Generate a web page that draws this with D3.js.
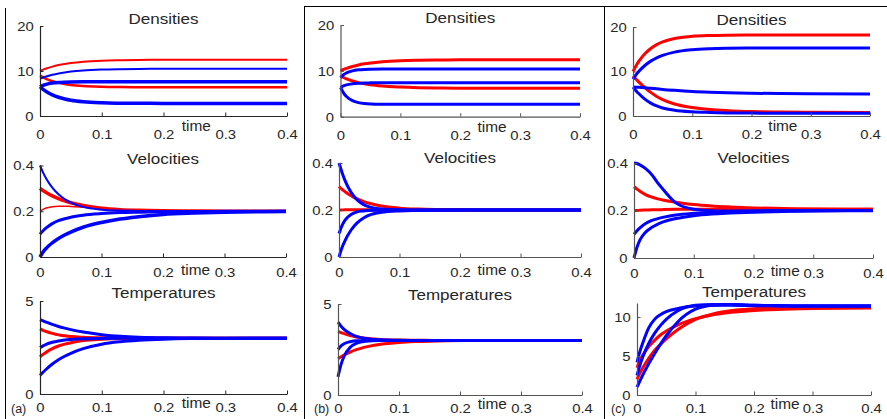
<!DOCTYPE html>
<html><head><meta charset="utf-8">
<script src="https://cdn.jsdelivr.net/npm/d3@7"></script>
<style>
body{margin:0;background:#fff}
svg{display:block}
text{font-family:"Liberation Sans",Arial,Helvetica,sans-serif;fill:#262626}
.sx{transform-box:fill-box;transform-origin:center;transform:scaleX(1.1)}
</style>
</head><body><svg id="c" width="887" height="419"></svg>
<script>
// ---------- data ----------
const time = [0,0.005,0.01,0.02,0.03,0.04,0.05,0.07,0.1,0.13,0.16,0.2,0.25,0.3,0.4];
const xTicks = [0,0.1,0.2,0.3,0.4];
const panelLabels = ["(a)","(b)","(c)"];
const rowTitles = ["Densities","Velocities","Temperatures"];
const densityTicks = [0,10,20];
const velocityTicks = [0,0.2,0.4];
const tempTicks = [0,5];
const tempTicksC = [0,5,10];

// (a)
const densA_red = [
  [10,10.29,10.55,10.98,11.32,11.58,11.78,12.07,12.3,12.4,12.46,12.48,12.5,12.5,12.5],
  [9,8.6,8.26,7.73,7.36,7.09,6.89,6.65,6.49,6.43,6.41,6.4,6.4,6.4,6.4]
];
const densA_blue = [
  [8.3,8.56,8.79,9.16,9.46,9.69,9.87,10.12,10.32,10.41,10.46,10.48,10.5,10.5,10.5],
  [6.5,6.81,7.04,7.31,7.45,7.52,7.56,7.59,7.6,7.6,7.6,7.6,7.6,7.6,7.6],
  [6.5,5.93,5.45,4.7,4.16,3.78,3.5,3.16,2.93,2.85,2.82,2.8,2.8,2.8,2.8]
];
const velA_red = [
  [0.3,0.29,0.282,0.267,0.255,0.245,0.237,0.225,0.213,0.207,0.204,0.202,0.201,0.2,0.2],
  [0.2,0.208,0.214,0.22,0.222,0.222,0.221,0.218,0.213,0.208,0.205,0.202,0.201,0.2,0.2]
];
const velA_blue = [
  [0.4,0.369,0.343,0.303,0.274,0.253,0.238,0.219,0.207,0.203,0.201,0.2,0.2,0.2,0.2],
  [0.1,0.115,0.127,0.146,0.159,0.167,0.174,0.183,0.19,0.194,0.196,0.198,0.199,0.2,0.2],
  [0,0.022,0.038,0.062,0.081,0.096,0.109,0.13,0.151,0.166,0.176,0.186,0.192,0.196,0.199]
];
const tempA_red = [
  [3.5,3.42,3.36,3.26,3.18,3.13,3.09,3.05,3.02,3.01,3,3,3,3,3],
  [2,2.13,2.25,2.44,2.58,2.68,2.76,2.87,2.94,2.98,2.99,3,3,3,3]
];
const tempA_blue = [
  [4,3.93,3.86,3.74,3.63,3.54,3.46,3.33,3.19,3.1,3.05,3.02,3.01,3,3],
  [2.5,2.59,2.67,2.78,2.85,2.9,2.93,2.97,2.99,3,3,3,3,3,3],
  [1,1.17,1.33,1.61,1.84,2.03,2.19,2.44,2.68,2.81,2.89,2.95,2.98,2.99,3]
];

// (b)
const densB_red = [
  [10,10.3,10.55,10.95,11.28,11.53,11.73,12,12.22,12.32,12.37,12.4,12.4,12.4,12.4],
  [8.9,8.55,8.26,7.79,7.43,7.16,6.95,6.68,6.46,6.33,6.26,6.22,6.2,6.2,6.2]
];
const densB_blue = [
  [8.5,9.15,9.55,10,10.22,10.32,10.36,10.39,10.4,10.4,10.4,10.4,10.4,10.4,10.4],
  [6.4,6.72,6.93,7.17,7.3,7.36,7.38,7.4,7.4,7.4,7.4,7.4,7.4,7.4,7.4],
  [6.4,5.2,4.4,3.5,3.07,2.87,2.78,2.72,2.7,2.7,2.7,2.7,2.7,2.7,2.7]
];
const velB_red = [
  [0.3,0.288,0.278,0.261,0.247,0.237,0.229,0.217,0.208,0.204,0.202,0.201,0.2,0.2,0.2],
  [0.2,0.2,0.201,0.201,0.201,0.201,0.201,0.2,0.2,0.2,0.2,0.2,0.2,0.2,0.2]
];
const velB_blue = [
  [0.4,0.36,0.325,0.275,0.243,0.224,0.213,0.204,0.201,0.2,0.2,0.2,0.2,0.2,0.2],
  [0.1,0.134,0.157,0.181,0.192,0.196,0.198,0.2,0.2,0.2,0.2,0.2,0.2,0.2,0.2],
  [0,0.04,0.07,0.115,0.145,0.165,0.178,0.19,0.196,0.198,0.199,0.2,0.2,0.2,0.2]
];
const tempB_red = [
  [3.5,3.43,3.37,3.27,3.19,3.14,3.1,3.05,3.02,3.01,3,3,3,3,3],
  [2,2.1,2.2,2.36,2.49,2.59,2.67,2.79,2.89,2.94,2.97,2.99,3,3,3]
];
const tempB_blue = [
  [4,3.78,3.61,3.37,3.22,3.14,3.08,3.03,3.01,3,3,3,3,3,3],
  [2.5,2.7,2.82,2.93,2.98,2.99,3,3,3,3,3,3,3,3,3],
  [1,1.68,2.13,2.62,2.84,2.93,2.97,2.99,3,3,3,3,3,3,3]
];

// (c)
const densC_red = [
  [10,11.26,12.32,13.99,15.18,16.04,16.65,17.4,17.9,18.09,18.16,18.19,18.2,18.2,18.2],
  [9,8.3,7.6,6.4,5.3,4.4,3.7,2.7,1.9,1.45,1.2,1,0.9,0.85,0.8]
];
const densC_blue = [
  [8.3,9.23,10.04,11.35,12.33,13.07,13.62,14.36,14.9,15.13,15.23,15.28,15.3,15.3,15.3],
  [6.5,6.48,6.44,6.34,6.22,6.1,5.98,5.78,5.53,5.36,5.23,5.12,5.03,4.98,4.93],
  [6.5,5.7,5,3.8,2.9,2.25,1.8,1.3,0.95,0.8,0.7,0.65,0.6,0.6,0.6]
];
const velC_red = [
  [0.3,0.29,0.281,0.266,0.256,0.249,0.243,0.235,0.225,0.219,0.215,0.211,0.208,0.206,0.205],
  [0.2,0.2,0.201,0.202,0.203,0.203,0.204,0.205,0.205,0.205,0.205,0.205,0.205,0.205,0.205]
];
const velC_blue = [
  [0.4,0.398,0.392,0.375,0.35,0.315,0.285,0.232,0.205,0.199,0.198,0.199,0.2,0.2,0.2],
  [0.1,0.115,0.127,0.146,0.158,0.166,0.172,0.181,0.188,0.192,0.194,0.196,0.198,0.199,0.2],
  [0,0.045,0.076,0.11,0.129,0.143,0.153,0.166,0.178,0.185,0.189,0.193,0.196,0.198,0.199]
];
const tempC_red = [
  [3.5,4.4,5.1,6.2,7,7.7,8.2,9,9.8,10.3,10.6,10.85,11,11.1,11.15],
  [2,2.8,3.5,4.7,5.7,6.5,7.2,8.4,9.7,10.4,10.8,11.05,11.2,11.25,11.3]
];
const tempC_blue = [
  [4.2,5.6,6.7,8.6,9.7,10.3,10.7,11.1,11.4,11.5,11.5,11.45,11.4,11.4,11.4],
  [2.5,3.8,4.9,6.6,7.9,8.9,9.7,10.8,11.5,11.6,11.6,11.5,11.45,11.4,11.4],
  [1,1.8,2.6,4,5.3,6.5,7.6,9.4,11,11.5,11.6,11.5,11.45,11.4,11.4]
];

// ---------- layout ----------
const RED = "#ff0000", BLUE = "#0000ff";
const svg = d3.select("#c");

const panels = [
  // column a
  {x:[40,287], y:[116,26], dom:[0,20], ticks:densityTicks, red:densA_red, blue:densA_blue, rw:[2,2.5], bw:[2,3.5,3.5], title:0, tY:24, row:0, axc:"#262626"},
  {x:[40,286], y:[257,165.5], dom:[0,0.4], ticks:velocityTicks, red:velA_red, blue:velA_blue, rw:[3.5,1.5], bw:[2,3,3.5], title:1, tY:164, row:1, axc:"#262626"},
  {x:[40,287], y:[394,301], dom:[0,5], ticks:tempTicks, red:tempA_red, blue:tempA_blue, rw:[3,3], bw:[3,3,3], title:2, tY:298, row:2, axc:"#262626", lab:0},
  // column b
  {x:[340.5,580], y:[116.7,25], dom:[0,20], ticks:densityTicks, red:densB_red, blue:densB_blue, rw:[3,3], bw:[3,3,3], title:0, tY:23, row:0, axc:"#555"},
  {x:[339,581], y:[257,163], dom:[0,0.4], ticks:velocityTicks, red:velB_red, blue:velB_blue, rw:[3,3], bw:[3,3,3], title:1, tY:163, row:1, axc:"#555"},
  {x:[338,582], y:[395,304], dom:[0,5], ticks:tempTicks, red:tempB_red, blue:tempB_blue, rw:[3,3], bw:[3,3,3], title:2, tY:300.5, row:2, axc:"#555", lab:1},
  // column c
  {x:[633,870], y:[116,27], dom:[0,20], ticks:densityTicks, red:densC_red, blue:densC_blue, rw:[3,3], bw:[3,3,3], title:0, tY:25, row:0, axc:"#555"},
  {x:[634,873], y:[258,163], dom:[0,0.4], ticks:velocityTicks, red:velC_red, blue:velC_blue, rw:[3,3], bw:[3,3,3], title:1, tY:163.5, row:1, axc:"#555"},
  {x:[637,871], y:[395,303], dom:[0,11.8], ticks:tempTicksC, red:tempC_red, blue:tempC_blue, rw:[3,3], bw:[3,3,3], title:2, tY:297, row:2, axc:"#555", lab:2}
];
const tickPad = [13.5, 10, 8.5];
const timeOff = [15, 18, 14.5];
const labX = [11, 314, 611];

panels.forEach(p => {
  const xs = d3.scaleLinear().domain([0,0.4]).range(p.x);
  const ys = d3.scaleLinear().domain(p.dom).range(p.y);
  const g = svg.append("g");

  const line = d3.line().x((d,i) => xs(time[i])).y(d => ys(d)).curve(d3.curveMonotoneX);
  p.red.forEach((s,i) => g.append("path").attr("d", line(s)).attr("fill","none")
      .attr("stroke",RED).attr("stroke-width",p.rw[i]).attr("stroke-linejoin","round"));
  p.blue.forEach((s,i) => g.append("path").attr("d", line(s)).attr("fill","none")
      .attr("stroke",BLUE).attr("stroke-width",p.bw[i]).attr("stroke-linejoin","round"));

  const xa = g.append("g").attr("transform",`translate(0,${p.y[0]})`)
    .call(d3.axisBottom(xs).tickValues(xTicks).tickFormat(d => String(d))
      .tickSizeInner(-3.5).tickSizeOuter(0).tickPadding(tickPad[p.row]));
  const ya = g.append("g").attr("transform",`translate(${p.x[0]},0)`)
    .call(d3.axisLeft(ys).tickValues(p.ticks).tickFormat(d => String(d))
      .tickSizeInner(-3.5).tickSizeOuter(0).tickPadding(7));
  [xa,ya].forEach(a => {
    a.select(".domain").attr("stroke",p.axc).attr("stroke-width",1.2);
    a.selectAll(".tick line").attr("stroke",p.axc);
    a.selectAll("text").attr("font-size",13.5).attr("fill","#262626")
      .attr("font-family",null).attr("class","sx");
  });

  g.append("text").attr("class","sx").attr("x",xs(0.253)).attr("y",p.y[0]+timeOff[p.row])
    .attr("text-anchor","middle").attr("font-size",14).text("time");
  g.append("text").attr("class","sx").attr("x",(p.x[0]+p.x[1])/2).attr("y",p.tY)
    .attr("text-anchor","middle").attr("font-size",15.5).attr("fill","#111").text(rowTitles[p.title]);
  if (p.lab !== undefined) {
    svg.append("text").attr("x",labX[p.lab]).attr("y",413).attr("font-size",12.5)
      .text(panelLabels[p.lab]);
  }
});

// frames between sub-figures
const frame = [[5.5,8,5.5,419],[304.5,6,304.5,419],[604.5,6,604.5,419],[304,6.5,887,6.5]];
frame.forEach(f => svg.append("line").attr("x1",f[0]).attr("y1",f[1]).attr("x2",f[2]).attr("y2",f[3])
  .attr("stroke","#000").attr("stroke-width",1));
</script>
</body></html>
